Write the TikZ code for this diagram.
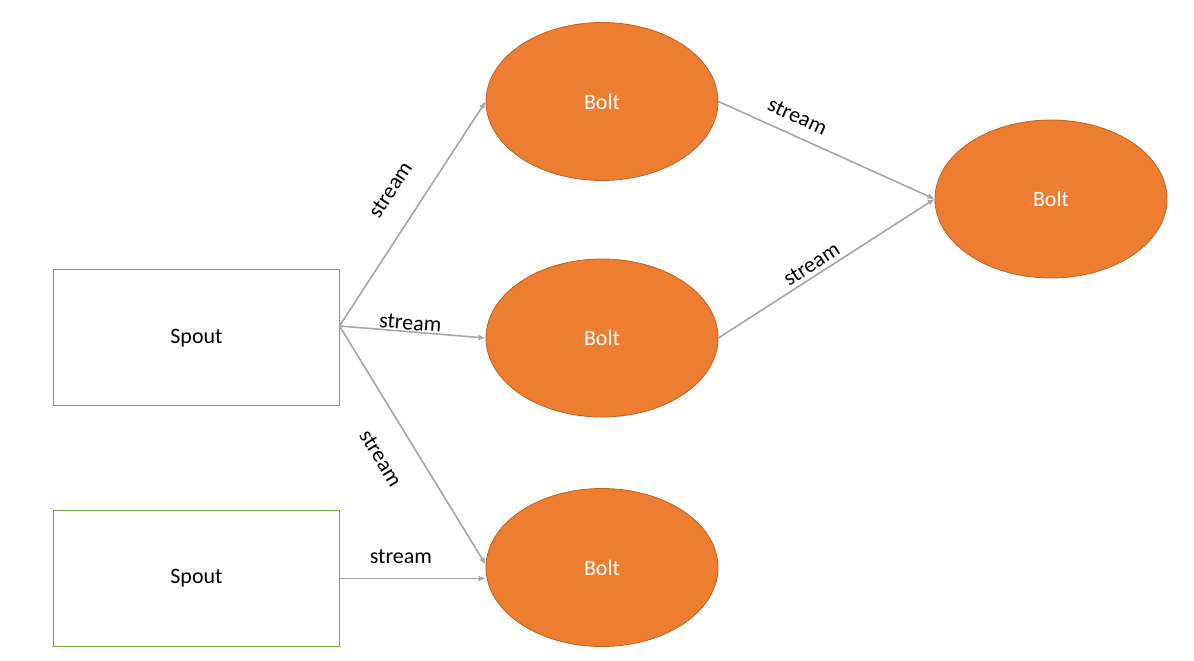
\documentclass[tikz,border=0pt]{standalone}
\usepackage{fontspec}
\setmainfont{Carlito}
\usetikzlibrary{positioning,shapes.geometric,arrows.meta}
\definecolor{boltorange}{HTML}{ED7D31}
\definecolor{boltedge}{HTML}{C0621F}
\definecolor{spoutgreen}{HTML}{70AD47}
\definecolor{streamgray}{HTML}{A6A6A6}

\begin{document}
\begin{tikzpicture}[>={Latex[length=7pt,width=6pt]},on grid,font=\fontsize{22}{26}\selectfont]

      \tikzset{spout/.style={draw=spoutgreen,line width=1pt,rectangle,minimum width=285pt,minimum height=136pt,inner sep=0pt}}
      \tikzset{bolt/.style={draw=boltedge,line width=0.8pt,fill=boltorange,ellipse,minimum width=232pt,minimum height=158pt,inner sep=0pt,text=white}}
      \tikzset{streamlabel/.style={sloped,inner sep=1pt,text=black}}
      \tikzset{every edge/.append style={draw=streamgray,line width=1.6pt}}
      \useasboundingbox (-196.5pt,338pt) rectangle (997.5pt,-323pt);

      \node[spout] (spout1) {Spout};
      \node[spout] (spout2) [below = 240.5pt of spout1] {Spout};
      \node[bolt] (bolt2) [right = 405.5pt of spout1] {Bolt};
      \node[bolt] (bolt1) [above = 236.5pt of bolt2] {Bolt};
      \node[bolt] (bolt3) [below = 229.5pt of bolt2] {Bolt};
      \node[bolt] (bolt4) [above right = 139pt and 449pt of bolt2] {Bolt};
      \coordinate (fan) at ([yshift=12pt]spout1.east);

      \path[->]
      (fan)
      edge [] node [streamlabel,pos=0.53,above=23pt] {stream} (bolt1.west)
      edge [] node [streamlabel,pos=0.48,above=0pt] {stream} (bolt2.west)
      edge [] node [streamlabel,pos=0.48,below=25pt] {stream} ([yshift=3pt]bolt3.west)
      (spout2.east)
      edge [] node [streamlabel,pos=0.42,above=13pt] {stream} (bolt3.west |- spout2.east)
      (bolt1.east)
      edge [] node [streamlabel,pos=0.33,above=10pt] {stream} (bolt4.west)
      (bolt2.east)
      edge [] node [streamlabel,pos=0.46,above=3pt] {stream} (bolt4.west)
      ;
    \end{tikzpicture}
\end{document}
